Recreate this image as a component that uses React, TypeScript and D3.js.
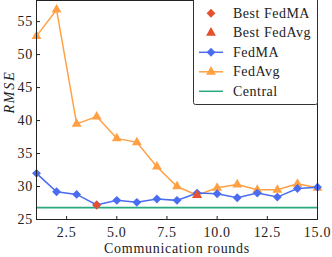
import React, { useEffect, useRef } from 'react';
import * as d3 from 'd3';

const rounds = [1, 2, 3, 4, 5, 6, 7, 8, 9, 10, 11, 12, 13, 14, 15];
const fedMA = [32.0, 29.2, 28.8, 27.2, 27.9, 27.6, 28.1, 27.9, 29.0, 28.9, 28.3, 29.0, 28.4, 29.7, 29.9];
const fedAvg = [52.8, 56.8, 39.5, 40.6, 37.3, 36.7, 33.0, 30.0, 28.7, 29.8, 30.3, 29.5, 29.5, 30.4, 29.8];
const central = 26.8;
const xTicks = [2.5, 5.0, 7.5, 10.0, 12.5, 15.0];
const yTicks = [25, 30, 35, 40, 45, 50, 55];

const BLUE = '#4a6cf0';
const ORANGE = '#ffa043';
const GREEN = '#2ca97c';
const RED = '#e5502e';
const FONT = 'Liberation Serif, serif';

const App: React.FC = () => {
  const svgRef = useRef<SVGSVGElement>(null);

  useEffect(() => {
    const svg = d3.select(svgRef.current);
    svg.selectAll('*').remove();

    const width = 332;
    const height = 257;
    const m = { left: 36.5, right: 317.5, top: 0.5, bottom: 219.5 };

    svg.attr('width', width).attr('height', height);

    const x = d3.scaleLinear().domain([1, 15]).range([m.left, m.right]);
    const y = d3.scaleLinear().domain([25, 58.2]).range([m.bottom, m.top]);

    const txt = (sel: d3.Selection<SVGTextElement, unknown, null, undefined>) =>
      sel.attr('font-family', FONT).attr('font-size', 14)
        .attr('letter-spacing', 0.7).attr('fill', '#222');

    const plot = svg.append('g');

    // central line
    plot.append('line')
      .attr('x1', m.left).attr('x2', m.right)
      .attr('y1', y(central)).attr('y2', y(central))
      .attr('stroke', GREEN).attr('stroke-width', 1.6);

    const line = d3.line<number>()
      .x((_, i) => x(rounds[i]))
      .y(d => y(d));

    const diamond = d3.symbol().type(d3.symbolDiamond2).size(50);
    const triangle = d3.symbol().type(d3.symbolTriangle).size(42);

    plot.append('path')
      .attr('d', line(fedAvg) || '')
      .attr('fill', 'none').attr('stroke', ORANGE).attr('stroke-width', 1.5);
    plot.selectAll('.tri')
      .data(fedAvg)
      .enter().append('path')
      .attr('d', triangle)
      .attr('transform', (d, i) => `translate(${x(rounds[i])},${y(d)})`)
      .attr('fill', ORANGE);

    plot.append('path')
      .attr('d', line(fedMA) || '')
      .attr('fill', 'none').attr('stroke', BLUE).attr('stroke-width', 1.5);
    plot.selectAll('.dia')
      .data(fedMA)
      .enter().append('path')
      .attr('d', diamond)
      .attr('transform', (d, i) => `translate(${x(rounds[i])},${y(d)})`)
      .attr('fill', BLUE);

    // best points
    const bestMA = d3.minIndex(fedMA);
    const bestAvg = d3.minIndex(fedAvg);
    plot.append('path')
      .attr('d', diamond)
      .attr('transform', `translate(${x(rounds[bestMA])},${y(fedMA[bestMA])})`)
      .attr('fill', RED);
    plot.append('path')
      .attr('d', triangle)
      .attr('transform', `translate(${x(rounds[bestAvg])},${y(fedAvg[bestAvg])})`)
      .attr('fill', RED);

    // frame
    svg.append('rect')
      .attr('x', m.left).attr('y', m.top)
      .attr('width', m.right - m.left).attr('height', m.bottom - m.top)
      .attr('fill', 'none').attr('stroke', '#222').attr('stroke-width', 1);

    // ticks
    xTicks.forEach(t => {
      svg.append('line')
        .attr('x1', x(t)).attr('x2', x(t))
        .attr('y1', m.bottom).attr('y2', m.bottom - 3.5)
        .attr('stroke', '#222');
      svg.append('text')
        .attr('x', x(t)).attr('y', 237)
        .attr('text-anchor', 'middle')
        .call(txt)
        .text(t.toFixed(1));
    });
    yTicks.forEach(t => {
      svg.append('line')
        .attr('x1', m.left).attr('x2', m.left + 3.5)
        .attr('y1', y(t)).attr('y2', y(t))
        .attr('stroke', '#222');
      svg.append('text')
        .attr('x', 33).attr('y', y(t) + 4.5)
        .attr('text-anchor', 'end')
        .call(txt)
        .text(t);
    });

    svg.append('text')
      .attr('x', 177).attr('y', 253)
      .attr('text-anchor', 'middle')
      .call(txt)
      .text('Communication rounds');

    svg.append('text')
      .attr('transform', 'translate(14,92) rotate(-90)')
      .attr('text-anchor', 'middle')
      .call(txt)
      .attr('letter-spacing', 1.8)
      .attr('font-style', 'italic')
      .text('RMSE');

    // legend
    const lg = svg.append('g');
    lg.append('rect')
      .attr('x', 193.5).attr('y', -3)
      .attr('width', 124).attr('height', 107.5)
      .attr('rx', 2)
      .attr('fill', 'white').attr('stroke', '#333').attr('stroke-width', 1);
    const items = [
      { label: 'Best FedMA', color: RED, sym: diamond, line: false },
      { label: 'Best FedAvg', color: RED, sym: triangle, line: false },
      { label: 'FedMA', color: BLUE, sym: diamond, line: true },
      { label: 'FedAvg', color: ORANGE, sym: triangle, line: true },
      { label: 'Central', color: GREEN, sym: null, line: true },
    ];
    items.forEach((it, i) => {
      const cy = 13.3 + i * 19.5;
      if (it.line) {
        lg.append('line')
          .attr('x1', 199).attr('x2', 223)
          .attr('y1', cy).attr('y2', cy)
          .attr('stroke', it.color).attr('stroke-width', 1.5);
      }
      if (it.sym) {
        lg.append('path')
          .attr('d', it.sym)
          .attr('transform', `translate(211,${cy})`)
          .attr('fill', it.color);
      }
      lg.append('text')
        .attr('x', 233).attr('y', cy + 4.5)
        .call(txt)
        .attr('letter-spacing', 0.5)
        .text(it.label);
    });
  }, []);

  return <svg ref={svgRef} style={{ position: 'absolute', left: 0, top: 0 }}></svg>;
};

export default App;
